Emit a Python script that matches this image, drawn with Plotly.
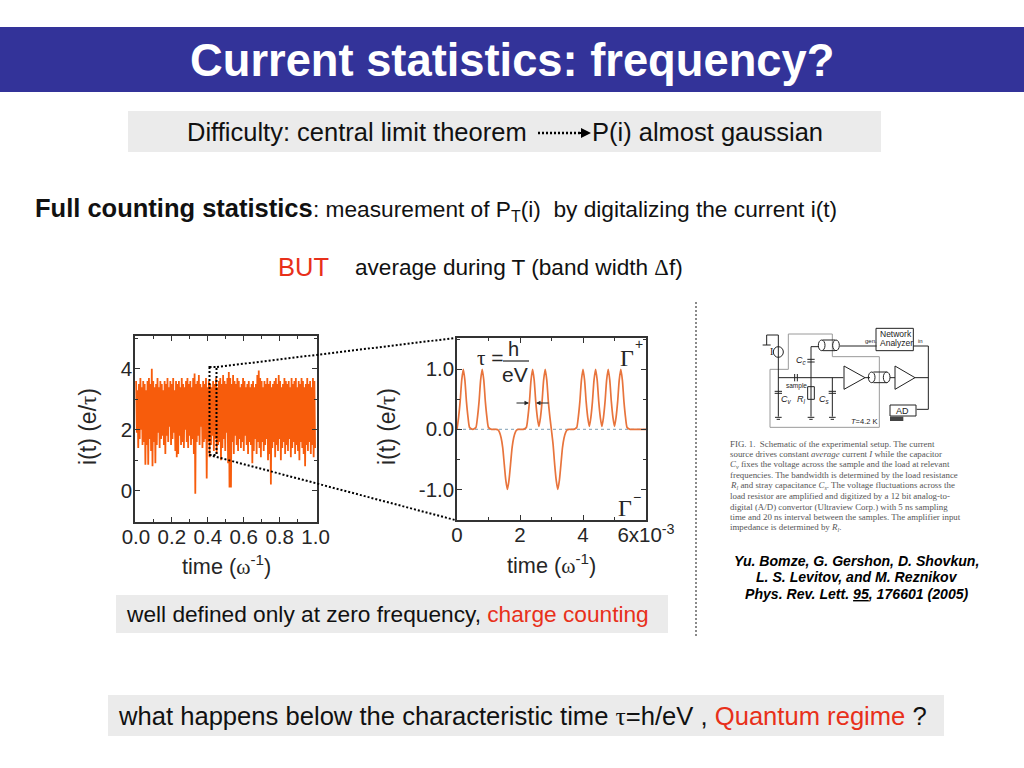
import plotly.graph_objects as go

# ---------- data ----------
noise_hi = [3.6,3.3,3.5,3.7,3.4,3.6,3.5,3.3,3.6,3.7,3.5,4.0,3.6,3.4,3.5,3.7,3.4,3.6,3.5,3.3,
            3.6,3.5,3.7,3.4,3.6,3.5,3.7,3.3,3.6,3.5,3.6,3.4,3.7,3.5,3.4,3.6,3.7,3.5,3.6,3.4,
            3.7,3.85,3.5,3.6,3.8,3.5,3.4,3.6,3.5,3.7,3.4,3.6,3.5,3.4,3.6,3.5,3.7,3.4,3.6,3.7,
            3.5,3.8,3.6,3.5,3.7,3.9,3.7,3.5,3.8,3.6,3.5,3.7,3.6,3.4,3.5,3.7,3.6,3.4,3.5,3.6,
            3.4,3.5,3.6,3.4,3.5,3.8,3.95,3.7,3.6,3.4,3.6,3.5,3.7,3.5,3.6,3.4,3.5,3.6,3.7,3.5,
            3.8,3.6,3.4,3.5,3.7,3.6,3.5,3.6,3.4,3.7,3.5,3.6,3.7,3.4,3.6,3.5,3.7,3.6,3.4,3.5,
            3.7,3.5,3.6,3.4,3.7,3.6]
noise_lo = [1.9,1.4,1.7,2.0,1.5,1.6,0.85,1.5,0.85,1.7,1.3,0.8,1.6,0.9,1.5,1.9,1.4,1.7,1.8,1.5,
            1.2,1.8,1.6,2.1,1.5,1.7,1.9,1.3,1.1,1.2,1.8,1.5,1.6,1.4,2.0,1.6,1.4,1.8,1.5,1.7,
            1.2,-0.1,1.6,1.8,1.5,2.1,1.4,1.6,1.7,0.4,1.6,1.1,1.5,1.8,1.3,1.7,1.2,1.5,1.6,1.0,
            1.4,1.7,1.3,1.9,0.9,0.1,0.1,1.6,1.2,1.8,1.5,1.3,1.7,1.4,1.6,1.3,1.8,1.5,1.2,1.6,
            1.5,0.9,1.3,1.7,1.2,1.6,1.4,1.1,1.6,1.3,1.5,1.7,1.0,1.2,0.2,1.4,1.6,1.1,1.5,1.3,
            1.7,1.0,1.4,1.6,1.2,1.5,1.3,1.7,1.1,1.4,1.6,1.2,1.5,1.3,1.0,1.6,1.4,1.2,0.8,1.5,
            1.3,1.6,1.2,1.5,1.1,1.4]

pulse_time = [round(i * 0.05, 2) for i in range(121)]
pulse_current = [
    0.0,0.2,0.46,0.82,1.0,0.82,0.46,0.2,0.03,0.01,0.0,0.01,0.03,0.2,0.46,0.82,1.0,0.82,0.46,0.2,
    0.03,0.01,0,0,0,0,-0.01,-0.05,-0.14,-0.3,-0.58,-0.85,-1.0,-0.85,-0.58,-0.3,-0.14,-0.05,-0.01,0,
    0,0,0,0.01,0.03,0.2,0.46,0.82,1.0,0.82,0.46,0.2,0.05,0.2,0.46,0.82,1.0,0.82,0.46,0.2,
    -0.02,-0.25,-0.58,-0.85,-1.0,-0.85,-0.58,-0.3,-0.14,-0.05,-0.01,0,0,0,0,0.01,0.03,0.2,0.46,0.82,
    1.0,0.82,0.46,0.2,0.05,0.2,0.46,0.82,1.0,0.82,0.46,0.2,0.05,0.2,0.46,0.82,1.0,0.82,0.46,0.2,
    0.05,0.2,0.46,0.82,1.0,0.82,0.46,0.2,0.03,0.01,0,0,0,0,0,0,0,0,0,0,0,
]

left_x_ticks = [0, 0.2, 0.4, 0.6, 0.8, 1.0]
left_x_labels = ["0.0", "0.2", "0.4", "0.6", "0.8", "1.0"]
left_y_ticks = [0, 2, 4]
right_x_ticks = [0, 2, 4, 6]
right_x_labels = ["0", "2", "4", "6x10<sup>-3</sup>"]
right_y_ticks = [-1, 0, 1]
right_y_labels = ["-1.0", "0.0", "1.0"]

caption_lines = [
    "FIG. 1.  Schematic of the experimental setup. The current",
    "source drives constant <i>average</i> current <i>I</i> while the capacitor",
    "<i>C<sub>v</sub></i> fixes the voltage across the sample and the load at relevant",
    "frequencies. The bandwidth is determined by the load resistance",
    "<i>R<sub>l</sub></i> and stray capacitance <i>C<sub>s</sub></i>. The voltage fluctuations across the",
    "load resistor are amplified and digitized by a 12 bit analog-to-",
    "digital (A/D) convertor (Ultraview Corp.) with 5 ns sampling",
    "time and 20 ns interval between the samples. The amplifier input",
    "impedance is determined by <i>R<sub>l</sub></i>.",
]

# ---------- helpers ----------
W, H = 1024, 768
SANS = "Liberation Sans"
SERIF = "Liberation Serif"
INK = "#262626"
ORANGE = "#f75c0c"
RED = "#e8301a"
def X(p): return p / W
def Y(p): return 1 - p / H
def greek(c): return f'<span style="font-family:{SERIF}">{c}</span>'

shapes, notes = [], []
def rect(x0, y0, x1, y1, fill, line=None, lw=0, dash=None):
    shapes.append(dict(type="rect", xref="paper", yref="paper", x0=X(x0), x1=X(x1), y0=Y(y0), y1=Y(y1),
                       fillcolor=fill, line=dict(color=line or fill, width=lw, dash=dash or "solid"),
                       layer="below" if dash is None else "above"))
def seg(x0, y0, x1, y1, color="#000", lw=1, dash=None):
    shapes.append(dict(type="line", xref="paper", yref="paper", x0=X(x0), x1=X(x1), y0=Y(y0), y1=Y(y1),
                       line=dict(color=color, width=lw, dash=dash or "solid"), layer="above"))
def txt(x, y, s, size, color="#111", anchor="left", font=SANS, **kw):
    notes.append(dict(xref="paper", yref="paper", x=X(x), y=Y(y), text=s, showarrow=False, xanchor=anchor,
                      yanchor="middle", font=dict(family=font, size=size, color=color), **kw))
def arrow(tip, tail, y, color, width, size):
    notes.append(dict(xref="paper", yref="paper", x=X(tip), y=Y(y), ax=tail - tip, ay=0, axref="pixel", ayref="pixel",
                      text="", showarrow=True, arrowhead=2, arrowsize=size, arrowwidth=width, arrowcolor=color))

# ---------- slide furniture ----------
rect(0, 27, 1024, 92, "#333399")
rect(128, 111, 881, 152, "#ebebeb")
rect(116, 595, 668, 633, "#ebebeb")
rect(108, 695, 944, 736, "#ebebeb")
txt(511.5, 60, "<b>Current statistics: frequency?</b>", 45.3, "#ffffff", "center")
txt(185, 132.5, "Difficulty: central limit theorem", 25.5)
txt(590, 132.5, "P(i) almost gaussian", 25.5)
seg(538, 133, 582, 133, "#000", 2.5, "2px,2px")
arrow(591, 578, 133, "#000", 2, 1)
txt(33, 208, "<b>Full counting statistics</b>", 25.5)
txt(311, 210, ": measurement of P<sub>T</sub>(i)\u00a0 by digitalizing the current i(t)", 22.7)
txt(276, 267, "BUT", 25.5, RED)
txt(353, 267, f"average during T (band width {greek('Δ')}f)", 22.6)
txt(124, 614, f'well defined only at zero frequency, <span style="color:{RED}">charge counting</span>', 22.7)
txt(116, 716, f"what happens below the characteristic time {greek('τ')}=h/eV , "
              f'<span style="color:{RED}">Quantum regime</span> ?', 25.6)
seg(696, 302, 696, 636, "#8a8a8a", 2, "2px,2px")

# ---------- zoom box and connectors ----------
rect(209.5, 367, 216.5, 455, "rgba(0,0,0,0)", "#000", 2, "2px,2px")
seg(217, 367, 455, 338, "#000", 2, "2px,2px")
seg(209, 455, 455, 520, "#000", 2, "2px,2px")

# ---------- axis titles ----------
omega = f"time ({greek('ω')}<sup>-1</sup>)"
ylab = f"i(t) (e/{greek('τ')})"
txt(226.5, 565, omega, 21.7, INK, "center")
txt(551.5, 564, omega, 21.7, INK, "center")
txt(88, 427, ylab, 23, INK, "center", textangle=-90)
txt(387, 427, ylab, 23, INK, "center", textangle=-90)

# ---------- right panel decorations ----------
txt(475, 358, f"{greek('τ')} =", 21, INK)
txt(513, 348.5, "h", 20, INK, "center")
seg(503, 361, 529, 361, INK, 1.2)
txt(515, 374.5, "eV", 21, INK, "center")
txt(618, 358, greek("Γ"), 24, INK)
txt(639, 344, "+", 14, INK, "center")
txt(616, 508, greek("Γ"), 24, INK)
txt(637, 497, "−", 14, INK, "center")
arrow(529, 515, 403, "#222", 1, 0.9)
arrow(536, 550, 403, "#222", 1, 0.9)

# ---------- circuit (pixel positions in the picture) ----------
def cx(v): return 700 + v / 3
def cy(v): return 310 + v / 3
grey = "#9a9a9a"
box = [(210,178),(265,178),(265,72),(397,72),(397,140),(538,140),(538,352),(210,352),(210,178)]
for a, b in zip(box, box[1:]):
    seg(cx(a[0]), cy(a[1]), cx(b[0]), cy(b[1]), grey, 1)
wires = [
    (235,75,235,320),(200,75,235,75),(200,75,200,105),(188,105,212,105),(235,203,430,203),
    (333,110,333,320),(333,110,357,110),(420,108,530,108),(397,203,397,320),(495,203,510,203),
    (570,203,585,203),(645,203,685,203),(640,108,685,108),(685,108,685,298),(650,298,685,298),
    (528,55,640,55),(640,55,640,122),(640,122,528,122),(528,122,528,55),
    (432,168,495,203),(495,203,432,238),(432,238,432,168),
    (585,168,645,203),(645,203,585,238),(585,238,585,168),
    (570,285,648,285),(648,285,648,318),(648,318,570,318),(570,318,570,285),
    (323,230,343,230),(343,230,343,268),(343,268,323,268),(323,268,323,230),
    (322,148,344,148),(322,156,344,156),(386,244,408,244),(386,250,408,250),(224,244,246,244),(224,250,246,250),
    (225,322,245,322),(230,328,240,328),(323,322,343,322),(328,328,338,328),(387,322,407,322),(392,328,402,328),
    (368,90,405,90),(368,122,405,122),(520,186,560,186),(520,218,560,218),
    (284,192,284,214),(292,192,292,214),
]
for w in wires:
    seg(cx(w[0]), cy(w[1]), cx(w[2]), cy(w[3]), "#222", 1)
for c0, r0, c1, r1 in [(220,110,250,142),(355,90,375,122),(398,90,418,122),(505,186,525,218),(550,186,570,218)]:
    shapes.append(dict(type="circle", xref="paper", yref="paper", x0=X(cx(c0)), x1=X(cx(c1)), y0=Y(cy(r0)), y1=Y(cy(r1)),
                       line=dict(color="#222", width=1), layer="above"))
rect(cx(570), cy(320), cx(610), cy(333), "#444")
txt(cx(589), cy(72), "Network", 8.5, "#222", "center")
txt(cx(589), cy(98), "Analyzer", 8.5, "#222", "center")
txt(cx(512), cy(93), "gen.", 6, "#222", "center")
txt(cx(662), cy(93), "in", 6, "#222", "center")
txt(cx(608), cy(303), "AD", 9, "#222", "center")
txt(cx(288), cy(227), "sample", 6.5, "#222", "center")
txt(cx(213), cy(126), "I", 10, "#222", "center", SERIF)
txt(cx(305), cy(152), "<i>C<sub>c</sub></i>", 9, "#222", "center")
txt(cx(259), cy(268), "<i>C<sub>v</sub></i>", 9, "#222", "center")
txt(cx(305), cy(268), "<i>R<sub>l</sub></i>", 9, "#222", "center")
txt(cx(372), cy(268), "<i>C<sub>s</sub></i>", 9, "#222", "center")
txt(cx(492), cy(334), "<i>T</i>=4.2 K", 7.5, "#222", "center")

# ---------- caption and citation ----------
for i, line in enumerate(caption_lines):
    txt(728, 444 + i * 10.45, line, 8.9, "#555", font=SERIF)
cite = ["<b><i>Yu. Bomze, G. Gershon, D. Shovkun,</i></b>",
        "<b><i>L. S. Levitov, and M. Reznikov</i></b>",
        "<b><i>Phys. Rev. Lett. <u>95</u>, 176601 (2005)</i></b>"]
for i, line in enumerate(cite):
    txt(856.5, 561 + i * 16.3, line, 14.1, "#000", "center")

# ---------- traces ----------
fig = go.Figure()
n = len(noise_hi)
zig_x, zig_y = [], []
for i in range(n):
    zig_x += [(i + 0.15) / (n - 1) * 0.992, (i + 0.65) / (n - 1) * 0.992]
    zig_y += [noise_hi[i], noise_lo[i]]
fig.add_trace(go.Scatter(x=zig_x, y=zig_y, mode="lines", line=dict(color=ORANGE, width=1.8), xaxis="x", yaxis="y",
                         showlegend=False, hoverinfo="skip"))
fig.add_trace(go.Scatter(x=[0, 6], y=[0, 0], mode="lines", line=dict(color="#7f9fb5", width=1, dash="dot"),
                         xaxis="x2", yaxis="y2", showlegend=False, hoverinfo="skip"))
fig.add_trace(go.Scatter(x=pulse_time, y=pulse_current, mode="lines", line=dict(color="#e8743c", width=1.7, shape="spline", smoothing=0.7),
                         xaxis="x2", yaxis="y2", showlegend=False, hoverinfo="skip"))

def axis(minor_step, **kw):
    base = dict(showgrid=False, zeroline=False, showline=True, linecolor="#333", linewidth=1.5, mirror="allticks",
                ticks="inside", ticklen=5, tickwidth=1.3, tickcolor="#333", automargin=False,
                tickfont=dict(family=SANS, size=20.5, color=INK), tickmode="array", fixedrange=True,
                minor=dict(tickmode="linear", tick0=0, dtick=minor_step, ticks="inside", ticklen=3, tickcolor="#333", showgrid=False))
    base.update(kw)
    return base

fig.update_layout(
    width=W, height=H, margin=dict(l=0, r=0, t=0, b=0, autoexpand=False), paper_bgcolor="#ffffff", plot_bgcolor="#ffffff",
    shapes=shapes, annotations=notes, showlegend=False,
    xaxis=axis(0.1, domain=[X(135), X(316.5)], range=[-0.005, 1.005], tickvals=left_x_ticks, ticktext=left_x_labels, anchor="y", ticklabelstandoff=-4),
    yaxis=axis(1, domain=[Y(522), Y(336)], range=[-1.03, 5.08], tickvals=left_y_ticks, anchor="x", ticklabelstandoff=-3),
    xaxis2=axis(1, domain=[X(457), X(646)], range=[0, 6], tickvals=right_x_ticks, ticktext=right_x_labels, anchor="y2", ticklabelstandoff=-4),
    yaxis2=axis(0.5, domain=[Y(520), Y(338)], range=[-1.51, 1.52], tickvals=right_y_ticks, ticktext=right_y_labels, anchor="x2", ticklabelstandoff=-3),
)
fig.write_html("out.html", config=dict(displayModeBar=False),
               post_script="document.body.style.margin='0';document.body.style.overflow='hidden';")
